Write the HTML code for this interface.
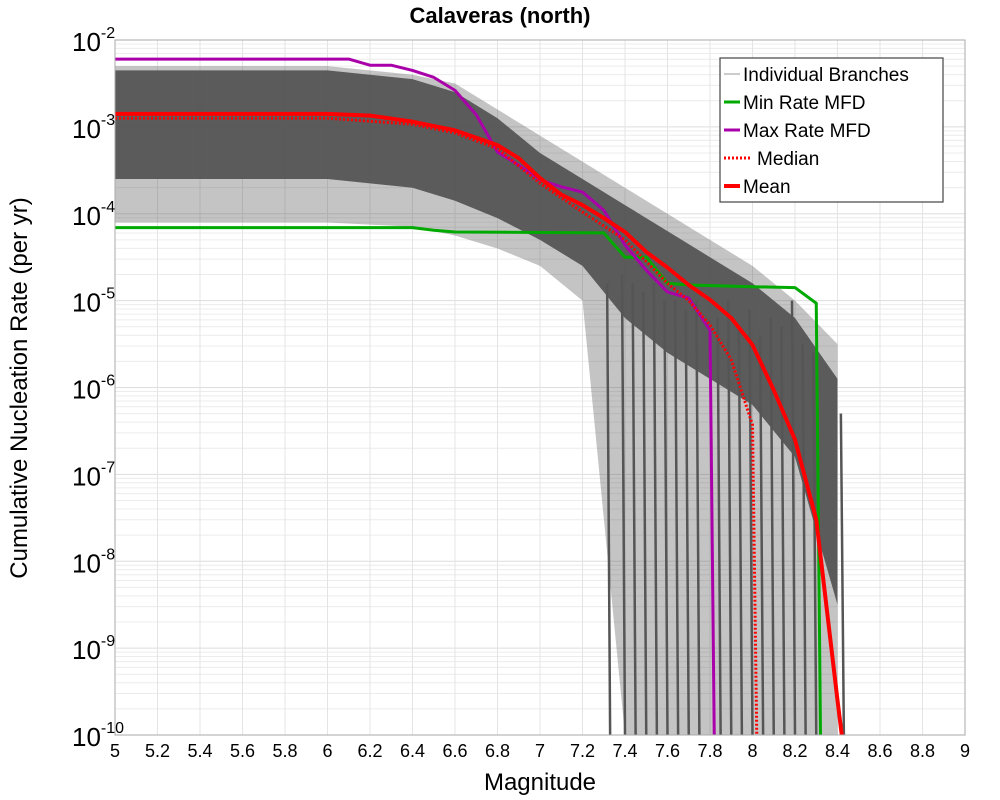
<!DOCTYPE html>
<html><head><meta charset="utf-8"><style>
body{margin:0;background:#fff;}
svg{display:block;font-family:"Liberation Sans","DejaVu Sans",sans-serif;}
</style></head><body>
<svg id="chart" width="1000" height="800" viewBox="0 0 1000 800">
<text x="500" y="23" text-anchor="middle" font-size="22" font-weight="bold" fill="#000">Calaveras (north)</text>
<g id="grid"></g>
<g id="plot"></g>
<rect x="115" y="40" width="850" height="695" fill="none" stroke="#aaa" stroke-width="1"/>
<g id="ticks"></g>
<text x="540" y="790" text-anchor="middle" font-size="24" fill="#000">Magnitude</text>
<text transform="translate(27,388) rotate(-90)" text-anchor="middle" font-size="24" fill="#000">Cumulative Nucleation Rate (per yr)</text>
<g>
<rect x="720" y="58" width="223" height="144" fill="#fff" stroke="#444" stroke-width="1.2"/>
<g><line x1="724" y1="74" x2="740" y2="74" stroke="#999" stroke-width="1"/><text x="743" y="81" font-size="19">Individual Branches</text></g>
<g><line x1="724" y1="102" x2="740" y2="102" stroke="#00aa00" stroke-width="3"/><text x="743" y="109" font-size="19">Min Rate MFD</text></g>
<g><line x1="724" y1="130" x2="740" y2="130" stroke="#aa00aa" stroke-width="3"/><text x="743" y="137" font-size="19">Max Rate MFD</text></g>
<g><line x1="724" y1="158" x2="752" y2="158" stroke="#f00" stroke-width="3" stroke-dasharray="2,2"/><text x="757" y="165" font-size="19">Median</text></g>
<g><line x1="724" y1="186" x2="740" y2="186" stroke="#f00" stroke-width="4"/><text x="743" y="193" font-size="19">Mean</text></g>
</g>
</svg>
<script>
const xTicks=[5,5.2,5.4,5.6,5.8,6,6.2,6.4,6.6,6.8,7,7.2,7.4,7.6,7.8,8,8.2,8.4,8.6,8.8,9];
const yDecades=[-2,-3,-4,-5,-6,-7,-8,-9,-10];
const meanM=[5,6,6.2,6.4,6.6,6.8,6.9,7.0,7.1,7.2,7.3,7.4,7.5,7.6,7.7,7.8,7.9,8.0,8.1,8.2,8.3,8.4,8.42];
const meanLog=[-2.85,-2.85,-2.87,-2.94,-3.04,-3.21,-3.36,-3.59,-3.78,-3.90,-4.05,-4.21,-4.44,-4.62,-4.82,-4.99,-5.20,-5.51,-6.03,-6.60,-7.52,-9.6,-10];
const medM=[5,6,6.4,6.6,6.8,7.0,7.2,7.4,7.5,7.6,7.7,7.8,7.9,8.0,8.02];
const medLog=[-2.9,-2.9,-2.97,-3.07,-3.25,-3.65,-3.98,-4.3,-4.55,-4.8,-5.0,-5.28,-5.68,-6.43,-10];
const maxM=[5,6.1,6.2,6.3,6.4,6.5,6.6,6.7,6.8,6.9,7.0,7.1,7.2,7.3,7.4,7.5,7.6,7.7,7.8,7.82];
const maxLog=[-2.22,-2.22,-2.29,-2.29,-2.35,-2.43,-2.58,-2.86,-3.29,-3.44,-3.61,-3.69,-3.75,-3.96,-4.36,-4.65,-4.9,-4.97,-5.34,-10];
const minM=[5,6.4,6.5,6.6,7.3,7.4,7.5,7.6,7.7,8.0,8.2,8.3,8.32];
const minLog=[-4.16,-4.16,-4.19,-4.21,-4.22,-4.5,-4.5,-4.8,-4.82,-4.84,-4.85,-5.03,-10];
const bandM=[5,6,6.4,6.6,6.8,7.0,7.2,7.4,7.6,7.8,8.0,8.2,8.4];
const bandHi=[-2.35,-2.35,-2.45,-2.6,-2.9,-3.3,-3.6,-3.9,-4.2,-4.5,-4.8,-5.2,-5.9];
const bandLo=[-3.6,-3.6,-3.7,-3.85,-4.05,-4.3,-4.6,-5.2,-5.6,-5.9,-6.2,-6.8,-8.5];
const faintHi=[-2.3,-2.3,-2.4,-2.5,-2.8,-3.1,-3.4,-3.7,-4.0,-4.3,-4.6,-5.0,-5.5];
const faintLo=[-4.1,-4.1,-4.15,-4.25,-4.4,-4.6,-5.0,-10,-10,-10,-10,-10,-10];
const dropM=[7.33,7.4,7.45,7.5,7.55,7.6,7.65,7.7,7.75,7.85,7.9,7.95,8.0,8.05,8.1,8.15,8.2,8.25,8.3,8.43];
const dropTop=[-4.8,-4.7,-4.8,-4.9,-4.8,-5.0,-5.0,-5.1,-5.0,-5.2,-5.0,-5.3,-5.1,-5.4,-5.2,-5.3,-5.0,-5.5,-5.6,-6.3];
const NS='http://www.w3.org/2000/svg';
const X=m=>115+(m-5)*212.5;
const Y=l=>40+(-2-l)*86.875;
function el(tag,attrs,parent){const e=document.createElementNS(NS,tag);for(const k in attrs)e.setAttribute(k,attrs[k]);parent.appendChild(e);return e;}
const grid=document.getElementById('grid'),plot=document.getElementById('plot'),ticks=document.getElementById('ticks');
for(let i=0;i<yDecades.length-1;i++){for(let k=1;k<10;k++){const y=Y(yDecades[i+1]+Math.log10(k));const g=el('line',{x1:115,x2:965,y1:y,y2:y,stroke:k==1?'#ddd':'#ececec','stroke-width':1},grid);

}}
xTicks.forEach(t=>{const g=el('line',{x1:X(t),x2:X(t),y1:40,y2:735,stroke:'#e4e4e4','stroke-width':1},grid);


const tx=el('text',{x:X(t),y:757,'text-anchor':'middle','font-size':18},ticks);tx.textContent=String(t);

});
yDecades.forEach(d=>{const tx=el('text',{x:72,y:Y(d)+11,'font-size':26},ticks);tx.textContent='10';


const s=el('tspan',{dy:-13,'font-size':16},tx);s.textContent=String(d);});
function pts(ms,ls){return ms.map((m,i)=>X(m)+','+Y(ls[i])).join(' ');}
function band(ms,hi,lo){return pts(ms,hi)+' '+pts(ms.slice().reverse(),lo.slice().reverse());}
const f=el('polygon',{points:band(bandM,faintHi,faintLo),fill:'#555','fill-opacity':0.35},plot);


const b=el('polygon',{points:band(bandM,bandHi,bandLo),fill:'#555','fill-opacity':0.95},plot);


dropM.forEach((m,i)=>{const l=el('line',{x1:X(m)-3,y1:Y(dropTop[i]),x2:X(m),y2:735,stroke:'#555','stroke-width':2.5},plot);

});
function series(ms,ls,color,w,dash,name){const p=el('polyline',{points:pts(ms,ls),fill:'none',stroke:color,'stroke-width':w,'stroke-linejoin':'round'},plot);if(dash)p.setAttribute('stroke-dasharray',dash);

}
series(minM,minLog,'#00aa00',3,null,'min-rate-line');
series(maxM,maxLog,'#aa00aa',3,null,'max-rate-line');
series(medM,medLog,'#ff0000',3,'2,2','median-line');
series(meanM,meanLog,'#ff0000',4,null,'mean-line');
</script>
</body></html>
